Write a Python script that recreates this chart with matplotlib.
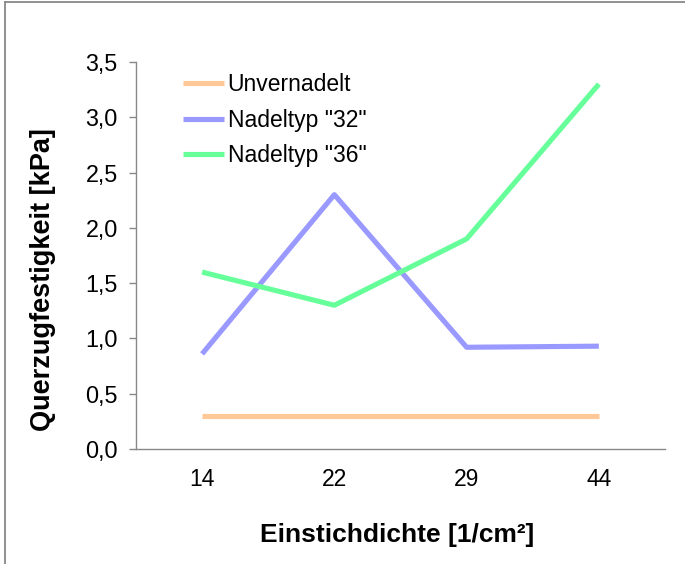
import numpy as np
import matplotlib.pyplot as plt
from matplotlib.lines import Line2D
from matplotlib.ticker import FuncFormatter

plt.rcParams['font.family'] = ['Liberation Sans', 'DejaVu Sans']

# --- Data ---
categories = ['14', '22', '29', '44']
unvernadelt = [0.3, 0.3, 0.3, 0.3]
nadeltyp_32 = [0.86, 2.3, 0.92, 0.93]
nadeltyp_36 = [1.6, 1.3, 1.9, 3.3]
series_labels = ['Unvernadelt', 'Nadeltyp "32"', 'Nadeltyp "36"']
colors = ['#FFC896', '#9999FF', '#66FF99']

# --- Plot ---
fig = plt.figure(figsize=(6.85, 5.64), dpi=100)
ax = fig.add_axes([0.1985, 0.2039, 0.7723, 0.6862])

x = np.arange(len(categories))
for vals, lbl, c in zip([unvernadelt, nadeltyp_32, nadeltyp_36], series_labels, colors):
    ax.plot(x, vals, color=c, lw=3.7, label=lbl, solid_capstyle='butt', clip_on=False)

ax.set_xlim(-0.5, len(categories) - 0.5)
ax.set_ylim(0, 3.5)
ax.set_yticks(np.arange(0, 3.51, 0.5))
ax.yaxis.set_major_formatter(FuncFormatter(lambda v, p: f'{v:.1f}'.replace('.', ',')))
ax.set_xticks(x)
ax.set_xticklabels(categories)

for s in ['top', 'right']:
    ax.spines[s].set_visible(False)
for s in ['left', 'bottom']:
    ax.spines[s].set_color('#888888')
    ax.spines[s].set_linewidth(1.0)

ax.tick_params(axis='y', length=5, width=1, color='#888888', pad=8, labelsize=16.8)
ax.tick_params(axis='x', length=0, pad=14, labelsize=16.5)

fig.text(0.0628, 0.5035, 'Querzugfestigkeit [kPa]', rotation=90, fontsize=19.5,
         fontweight='bold', ha='center', va='center')
fig.text(0.5796, 0.0514, 'Einstichdichte [1/cm²]', fontsize=19,
         fontweight='bold', ha='center', va='center')

leg = ax.legend(loc='upper left', bbox_to_anchor=(183 / 685, 1 - 73 / 564),
                bbox_transform=fig.transFigure, frameon=False, fontsize=16.5,
                handlelength=1.8, handletextpad=0.15, labelspacing=0.55,
                borderpad=0, borderaxespad=0)

# outer chart border (left and top edges visible)
fig.add_artist(Line2D([5 / 685, 5 / 685], [0, 1 - 2 / 564], transform=fig.transFigure,
                      color='#888888', lw=1.3))
fig.add_artist(Line2D([5 / 685, 1], [1 - 2 / 564, 1 - 2 / 564], transform=fig.transFigure,
                      color='#888888', lw=1.3))

plt.savefig('out.png', dpi=100)
